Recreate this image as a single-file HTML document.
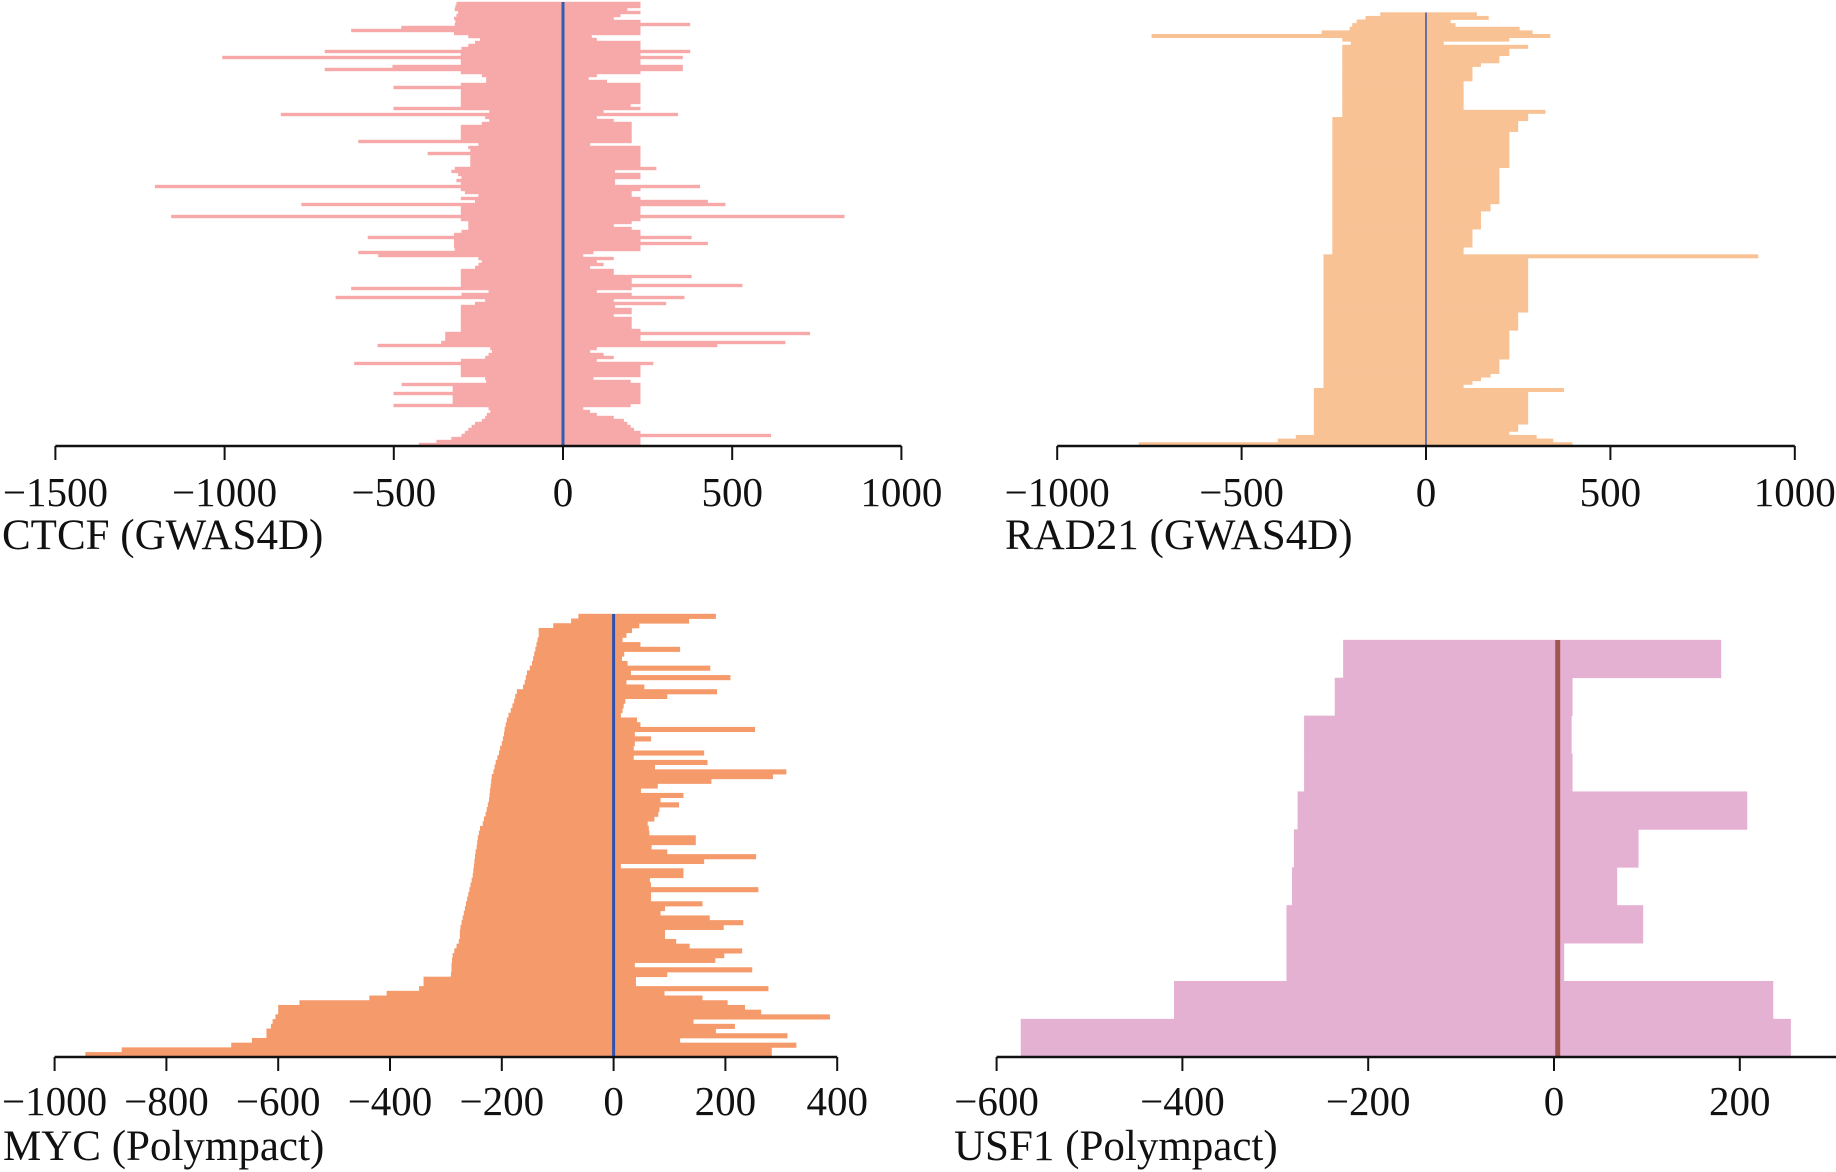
<!DOCTYPE html>
<html><head><meta charset="utf-8">
<style>
html,body{margin:0;padding:0;background:#fff;}
svg{display:block;font-family:"Liberation Serif",serif;}
</style></head>
<body>
<svg id="chart" width="1836" height="1172" viewBox="0 0 1836 1172" xmlns="http://www.w3.org/2000/svg"></svg>
<script>
// ---- CTCF (GWAS4D) ----
const ctcfLeft = [
-315,-318,-320,-310,-315,-322,-318,-320,-478,-626,
-322,-280,-245,-260,-280,-300,-704,-302,-1007,-302,
-302,-504,-704,-302,-240,-227,-227,-302,-501,-302,
-302,-302,-302,-302,-302,-501,-218,-834,-230,-218,
-240,-302,-302,-302,-302,-302,-605,-250,-280,-274,
-400,-274,-274,-274,-274,-320,-330,-310,-300,-315,
-302,-1206,-302,-290,-250,-302,-260,-773,-302,-302,
-302,-1158,-302,-280,-280,-280,-300,-322,-577,-322,
-322,-322,-320,-605,-546,-250,-240,-250,-260,-302,
-302,-302,-302,-302,-302,-626,-220,-300,-672,-230,
-260,-302,-302,-302,-302,-302,-302,-302,-302,-302,
-348,-348,-348,-360,-548,-215,-210,-220,-230,-302,
-617,-302,-302,-302,-302,-230,-227,-477,-326,-326,
-501,-326,-326,-326,-501,-220,-215,-225,-230,-240,
-260,-270,-280,-290,-300,-330,-374,-426];
const ctcfRight = [
229,229,190,229,170,150,229,376,229,229,
229,85,100,229,229,229,376,229,354,229,
229,354,354,229,100,76,130,229,229,229,
229,229,229,229,200,229,120,340,100,150,
203,203,203,203,203,203,203,80,229,229,
229,229,229,229,229,276,154,229,229,154,
154,405,229,203,203,229,428,480,229,229,
229,832,229,203,150,203,229,229,380,229,
428,229,229,90,60,150,100,120,80,150,
150,380,203,203,530,203,100,203,359,150,
305,154,203,203,150,203,203,203,203,229,
730,229,229,657,456,100,80,120,150,100,
267,229,229,229,229,90,200,229,229,229,
229,229,229,229,200,60,80,100,150,180,
190,200,210,229,615,229,229,229];
const ctcfTicks = [-1500,-1000,-500,0,500,1000];

// ---- RAD21 (GWAS4D) ----
const radLeft = [
-124,-164,-188,-200,-207,-283,-744,-227,-204,-227,
-227,-227,-227,-227,-227,-227,-227,-227,-227,-227,
-227,-227,-227,-227,-227,-227,-227,-227,-227,-254,
-254,-254,-254,-254,-254,-254,-254,-254,-254,-254,
-254,-254,-254,-254,-254,-254,-254,-254,-254,-254,
-254,-254,-254,-254,-254,-254,-254,-254,-254,-254,
-254,-254,-254,-254,-254,-254,-254,-278,-278,-278,
-278,-278,-278,-278,-278,-278,-278,-278,-278,-278,
-278,-278,-278,-278,-278,-278,-278,-278,-278,-278,
-278,-278,-278,-278,-278,-278,-278,-278,-278,-278,
-278,-278,-278,-278,-304,-304,-304,-304,-304,-304,
-304,-304,-304,-304,-304,-304,-304,-353,-402,-779];
const radRight = [
138,170,67,80,254,289,337,226,48,277,
226,226,199,199,149,126,126,126,126,102,
102,102,102,102,102,102,102,324,277,277,
250,250,250,226,226,226,226,226,226,226,
226,226,226,199,199,199,199,199,199,199,
199,199,199,175,175,149,149,149,149,149,
126,126,126,126,126,102,102,901,277,277,
277,277,277,277,277,277,277,277,277,277,
277,277,277,250,250,250,250,250,226,226,
226,226,226,226,226,226,199,199,199,199,
175,149,126,102,374,277,277,277,277,277,
277,277,277,277,250,250,226,300,345,397];
const radTicks = [-1000,-500,0,500,1000];

// ---- MYC (Polympact) ----
const mycLeft = [
-63,-76,-108,-134,-134,-136,-138,-140,-142,-144,
-146,-150,-155,-157,-159,-162,-173,-176,-178,-181,
-184,-188,-191,-193,-195,-196,-198,-200,-203,-205,
-208,-211,-213,-215,-218,-219,-220,-221,-222,-223,
-225,-227,-229,-232,-234,-239,-241,-243,-244,-245,
-247,-248,-249,-250,-251,-252,-254,-256,-258,-260,
-262,-264,-266,-268,-270,-272,-274,-275,-275,-277,
-281,-285,-288,-289,-290,-290,-291,-340,-340,-348,
-406,-437,-562,-600,-600,-605,-610,-613,-621,-621,
-647,-684,-880,-945];
const mycRight = [
183,135,46,33,23,16,48,119,19,15,
25,173,31,209,23,55,185,96,21,18,
16,13,42,48,253,38,67,38,36,162,
36,168,74,309,285,175,79,49,125,84,
117,82,80,73,61,63,64,147,147,68,
96,255,162,13,125,125,65,67,259,67,
67,159,92,84,172,232,197,92,92,112,
136,230,198,182,38,248,96,40,40,277,
91,159,204,235,264,387,143,217,183,311,
119,327,283,283];
const mycTicks = [-1000,-800,-600,-400,-200,0,200,400];

// ---- USF1 (Polympact) ----
const usfLeft = [-227,-236,-269,-269,-276,-280,-282,-288,-288,-409,-574];
const usfRight = [180,20,19,20,208,91,68,96,11,236,255];
const usfTicks = [-600,-400,-200,0,200];

const NS = "http://www.w3.org/2000/svg";
const svg = document.getElementById('chart');
function mk(tag, attrs, parent){
  const e = document.createElementNS(NS, tag);
  for (const k in attrs) e.setAttribute(k, attrs[k]);
  (parent||svg).appendChild(e);
  return e;
}
function fmt(v){ return v < 0 ? '\u2212' + Math.abs(v) : String(v); }

function panel(cfg){
  const g = mk('g', {});
  
  
  const xs = v => cfg.zero + v * cfg.scale;
  const n = cfg.left.length;
  const rh = (cfg.bottom - cfg.top) / n;
  for (let i = 0; i < n; i++){
    const l = cfg.left[i], r = cfg.right[i];
    const rect = mk('rect', {x: xs(l), y: cfg.top + i*rh - 0.2, width: xs(r)-xs(l), height: rh + 0.4, fill: cfg.fill}, g);
    
    
  }
  const zl = mk('line', {x1: xs(cfg.lineAt), x2: xs(cfg.lineAt), y1: cfg.top, y2: cfg.bottom, stroke: cfg.lineColor, 'stroke-width': cfg.lineW}, g);
  
  
  const ax = mk('line', {x1: xs(cfg.ticks[0]), x2: cfg.axisEnd != null ? cfg.axisEnd : xs(cfg.ticks[cfg.ticks.length-1]), y1: cfg.bottom, y2: cfg.bottom, stroke: '#111', 'stroke-width': 2.5}, g);
  
  
  cfg.ticks.forEach(t => {
    const tk = mk('line', {x1: xs(t), x2: xs(t), y1: cfg.bottom, y2: cfg.bottom + 14, stroke: '#111', 'stroke-width': 2}, g);
    
    
    const tl = mk('text', {x: xs(t), y: cfg.labelY, 'text-anchor': 'middle', 'font-size': 41, fill: '#111'}, g);
    tl.textContent = fmt(t);
    
    
  });
  const ti = mk('text', {x: cfg.titleX, y: cfg.titleY, 'font-size': 43, fill: '#111'}, g);
  ti.textContent = cfg.title;
  
  
}

panel({name:'ctcf-panel', left:ctcfLeft, right:ctcfRight, ticks:ctcfTicks, zero:563, scale:0.3384, top:2, bottom:446,
  fill:'#f7a8a8', lineColor:'#2f5fb0', lineW:3, lineAt:0, labelY:506, title:'CTCF (GWAS4D)', titleX:2, titleY:549});
panel({name:'rad21-panel', left:radLeft, right:radRight, ticks:radTicks, zero:1426, scale:0.3688, top:12.5, bottom:446,
  fill:'#f9c295', lineColor:'#6a70a0', lineW:2, lineAt:0, labelY:506, title:'RAD21 (GWAS4D)', titleX:1005, titleY:549});
panel({name:'myc-panel', left:mycLeft, right:mycRight, ticks:mycTicks, zero:613.6, scale:0.559, top:614, bottom:1057,
  fill:'#f59a6a', lineColor:'#3050b0', lineW:3, lineAt:0, labelY:1115, title:'MYC (Polympact)', titleX:3, titleY:1160});
panel({name:'usf1-panel', left:usfLeft, right:usfRight, ticks:usfTicks, zero:1554, scale:0.929, top:640, bottom:1057,
  fill:'#e4b1d3', lineColor:'#a0564f', lineW:5, lineAt:4, labelY:1115, title:'USF1 (Polympact)', titleX:954, titleY:1160, axisEnd:1836});
</script>
</body></html>
